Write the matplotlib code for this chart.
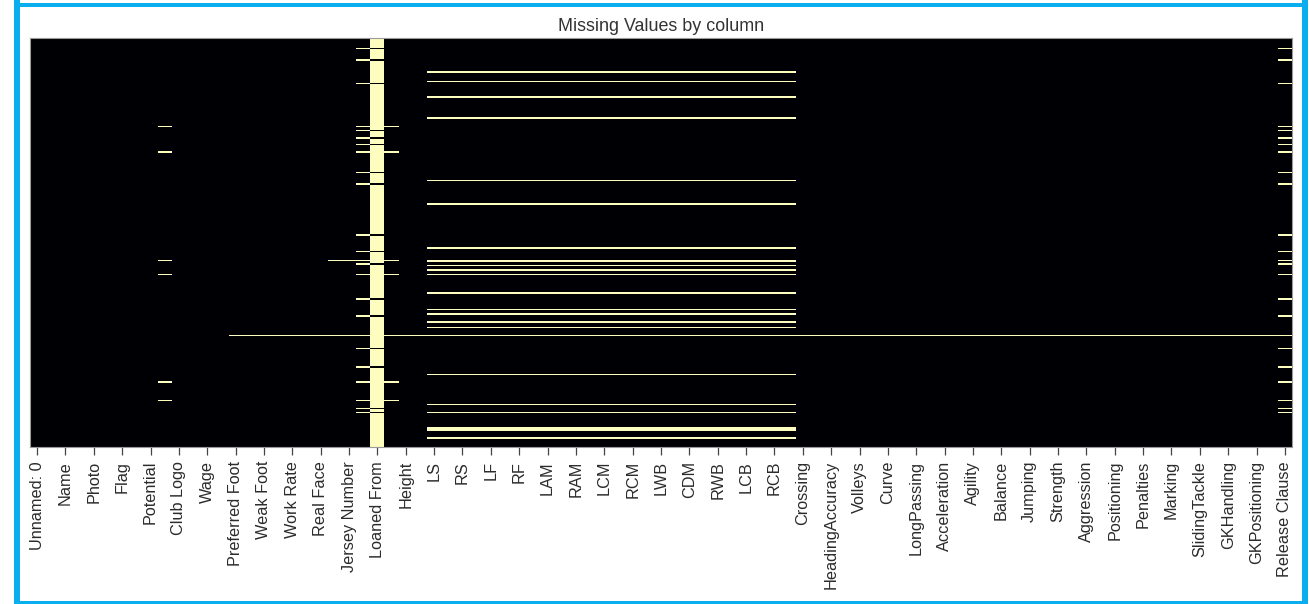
import matplotlib
matplotlib.use("Agg")
import matplotlib.pyplot as plt
import numpy as np
from matplotlib.patches import Rectangle

plt.rcParams["font.family"] = ["Liberation Sans", "DejaVu Sans"]

columns = [
    "Unnamed: 0", "ID", "Name", "Age", "Photo", "Nationality", "Flag",
    "Overall", "Potential", "Club", "Club Logo", "Value", "Wage", "Special",
    "Preferred Foot", "International Reputation", "Weak Foot", "Skill Moves",
    "Work Rate", "Body Type", "Real Face", "Position", "Jersey Number",
    "Joined", "Loaned From", "Contract Valid Until", "Height", "Weight",
    "LS", "ST", "RS", "LW", "LF", "CF", "RF", "RW", "LAM", "CAM", "RAM", "LM",
    "LCM", "CM", "RCM", "RM", "LWB", "LDM", "CDM", "RDM", "RWB", "LB", "LCB",
    "CB", "RCB", "RB", "Crossing", "Finishing", "HeadingAccuracy",
    "ShortPassing", "Volleys", "Dribbling", "Curve", "FKAccuracy",
    "LongPassing", "BallControl", "Acceleration", "SprintSpeed", "Agility",
    "Reactions", "Balance", "ShotPower", "Jumping", "Stamina", "Strength",
    "LongShots", "Aggression", "Interceptions", "Positioning", "Vision",
    "Penalties", "Composure", "Marking", "StandingTackle", "SlidingTackle",
    "GKDiving", "GKHandling", "GKKicking", "GKPositioning", "GKReflexes",
    "Release Clause",
]
n_rows = 18207

# (first row, stop row) spans of missing entries, one list per pattern
loan_rows = [
    (423, 468), (957, 1002), (1981, 2026), (4095, 4140), (4429, 4474),
    (4710, 4755), (5974, 6019), (6477, 6522), (8747, 8792), (9482, 9527),
    (10038, 10083), (11596, 11641), (12353, 12398), (13778, 13823),
    (14623, 14668), (16471, 16516), (16658, 16703),
]
no_club_rows = [
    (3926, 3971), (5017, 5106), (10484, 10529), (15291, 15336),
    (16093, 16138),
]
no_position_rows = [(9883, 9928)]
goalkeeper_rows = [
    (1491, 1536), (1892, 1937), (2604, 2649), (3517, 3606), (6299, 6344),
    (7367, 7412), (9326, 9371), (9883, 9972), (10105, 10150),
    (10305, 10350), (10515, 10560), (11307, 11396), (12042, 12087),
    (12264, 12309), (12620, 12709), (12843, 12888), (14966, 15011),
    (16302, 16347), (16627, 16672), (17317, 17495), (17784, 17829),
]
empty_rows = [(13236, 13284)]

position_cols = columns[columns.index("LS"):columns.index("RB") + 1]
patterns = [
    (loan_rows, ["Joined", "Release Clause"]),
    (no_club_rows, ["Club", "Joined", "Contract Valid Until",
                    "Release Clause"]),
    (no_position_rows, ["Club", "Position", "Jersey Number", "Joined",
                        "Contract Valid Until", "Release Clause"]
     + position_cols),
    (goalkeeper_rows, position_cols),
    (empty_rows, columns[columns.index("Preferred Foot"):]),
]

# compress the rows to the span boundaries so the mesh stays small
all_spans = [s for spans, _ in patterns for s in spans]
edges = np.unique([0, n_rows] + [b for s in all_spans for b in s])
mask = np.zeros((len(edges) - 1, len(columns)))


def segments(span):
    return slice(np.searchsorted(edges, span[0]),
                 np.searchsorted(edges, span[1]))


# Loaned From is empty except for the loaned players
mask[:, columns.index("Loaned From")] = 1
for span in loan_rows:
    mask[segments(span), columns.index("Loaned From")] = 0

for spans, cols in patterns:
    idx = [columns.index(c) for c in cols]
    for span in spans:
        mask[segments(span), idx] = 1

fig = plt.figure(figsize=(13.09, 6.04), dpi=100)
ax = fig.add_axes([30 / 1309, 1 - 447 / 604, 1262 / 1309, 409 / 604])
ax.pcolormesh(np.arange(len(columns) + 1), edges, mask, cmap="magma",
              vmin=0, vmax=1)
ax.set_xlim(0, len(columns))
ax.set_ylim(n_rows, 0)
ax.set_yticks([])
ax.set_xticks(np.arange(0, len(columns), 2) + 0.5)
ax.set_xticklabels(columns[::2], rotation=90, fontsize=11.7, color="#2b2b2b")
ax.tick_params(axis="x", length=6, width=0.9, pad=4, color="#444444")
for spine in ax.spines.values():
    spine.set_color("#9a9a9a")
    spine.set_linewidth(0.8)
ax.set_title("Missing Values by column", fontsize=12.9, color="#333333",
             pad=5)

# notebook output frame
blue = "#0aaeef"
for x, y, w, h in [(14, 0, 6, 604), (1302, 0, 6, 604),
                   (14, 3, 1294, 4), (14, 601, 1294, 3)]:
    fig.add_artist(Rectangle((x / 1309, 1 - (y + h) / 604), w / 1309,
                             h / 604, transform=fig.transFigure,
                             color=blue, lw=0))

fig.savefig("out.png", dpi=100)
